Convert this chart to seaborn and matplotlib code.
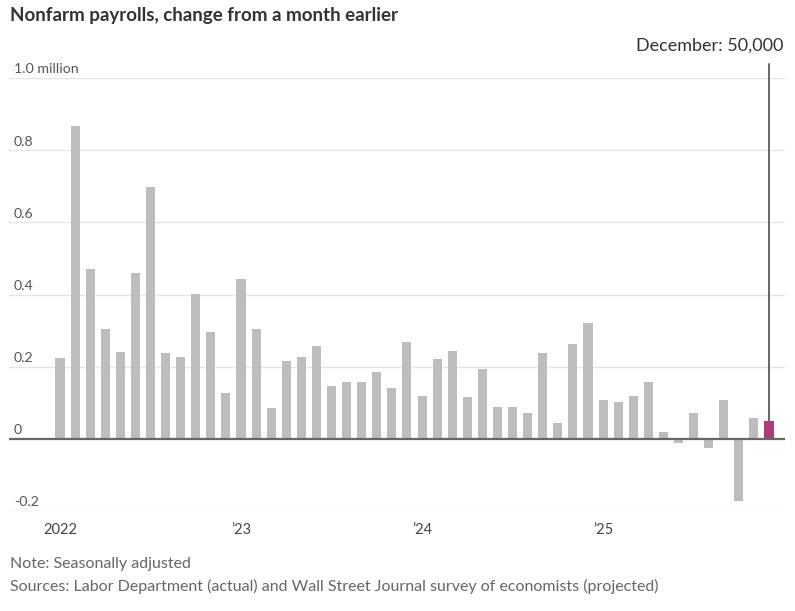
import pandas as pd
import matplotlib.pyplot as plt
import matplotlib.transforms as mtransforms
import seaborn as sns

# monthly change, millions of jobs (Jan 2022 - Dec 2025, Dec 2025 projected)
months = pd.date_range("2022-01-01", "2025-12-01", freq="MS").strftime("%Y-%m").tolist()
change = [
    0.224, 0.867, 0.470, 0.304, 0.242, 0.460, 0.697, 0.238, 0.228, 0.401, 0.297, 0.127,
    0.443, 0.304, 0.085, 0.217, 0.228, 0.256, 0.147, 0.157, 0.157, 0.186, 0.141, 0.269,
    0.119, 0.220, 0.244, 0.117, 0.193, 0.089, 0.089, 0.071, 0.238, 0.044, 0.262, 0.321,
    0.109, 0.103, 0.119, 0.158, 0.019, -0.012, 0.071, -0.026, 0.109, -0.171, 0.057, 0.050,
]
kind = ["actual"] * 47 + ["projected"]

y_ticks = [-0.2, 0, 0.2, 0.4, 0.6, 0.8, 1.0]
y_labels = ["-0.2", "0", "0.2", "0.4", "0.6", "0.8", "1.0 million"]
x_ticks = ["2022-01", "2023-01", "2024-01", "2025-01"]
x_labels = ["2022", "\u201923", "\u201924", "\u201925"]

df = pd.DataFrame({"month": months, "change": change, "kind": kind})

sns.set_style("white")
plt.rcParams["font.family"] = ["Lato", "DejaVu Sans"]

W, H = 795, 611
fig = plt.figure(figsize=(W / 100, H / 100), dpi=100)
# axes placed in pixel terms: x 9..785, y(-0.2)=511, y(1.0)=78
ax = fig.add_axes([9 / W, (H - 511) / H, 776 / W, (511 - 78) / H])

sns.barplot(data=df, x="month", y="change", hue="kind",
            palette={"actual": "#bdbdbd", "projected": "#c0287a"},
            width=0.6, legend=False, ax=ax, edgecolor="none", zorder=3)

px = 709 / 47
ax.set_xlim(-51 / px, 725 / px)
ax.set_ylim(-0.2, 1.0)

for s in ax.spines.values():
    s.set_visible(False)

# gridlines
for v in y_ticks:
    ax.axhline(v, color="#666666" if v == 0 else "#e6e6e6",
               lw=1.6 if v == 0 else 1.0, zorder=4 if v == 0 else 1)

ax.set_yticks([])
trans = mtransforms.blended_transform_factory(ax.transAxes, ax.transData)
for v, lab in zip(y_ticks, y_labels):
    ax.text(5 / 776, v + 0.007, lab, transform=trans, ha="left", va="bottom",
            fontsize=10.2, color="#555555")

# x ticks
pos = [months.index(m) for m in x_ticks]
ax.set_xticks(pos)
ax.set_xticklabels(x_labels, fontsize=10.5, color="#444444")
ax.tick_params(axis="x", length=5, width=1, color="#333333", pad=4, direction="out")
ax.set_xlabel("")
ax.set_ylabel("")

# annotation for December
last = len(months) - 1
ax.plot([last, last], [change[-1], 1.04], color="#666666", lw=1.4,
        clip_on=False, zorder=5)
fig.text(783 / W, 1 - 46 / H, "December: 50,000", ha="right", va="center",
         fontsize=13, color="#333333")

fig.text(10 / W, 1 - 15 / H, "Nonfarm payrolls, change from a month earlier",
         ha="left", va="center", fontsize=13.5, fontweight="bold", color="#333333")
fig.text(10 / W, 1 - 564 / H, "Note: Seasonally adjusted",
         ha="left", va="center", fontsize=11.5, color="#666666")
fig.text(10 / W, 1 - 586 / H,
         "Sources: Labor Department (actual) and Wall Street Journal survey of economists (projected)",
         ha="left", va="center", fontsize=11.5, color="#666666")

fig.savefig("out.png", dpi=100)
